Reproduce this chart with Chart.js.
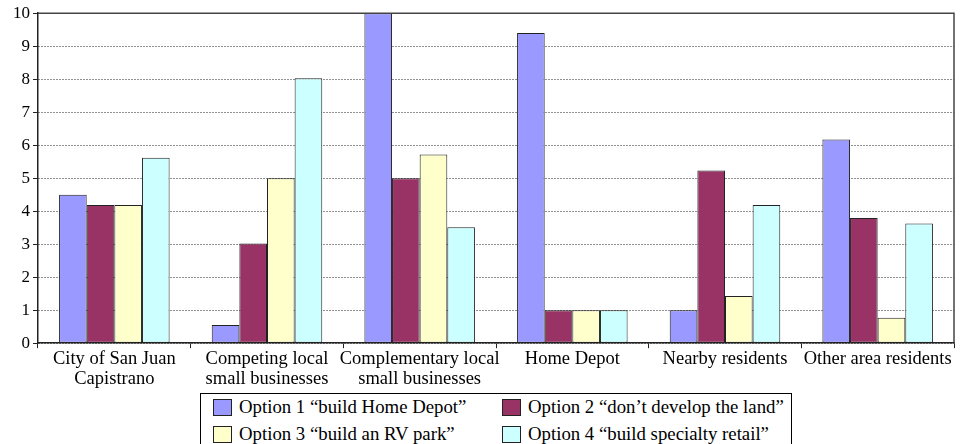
<!DOCTYPE html>
<html>
<head>
<meta charset="utf-8">
<script src="https://cdn.jsdelivr.net/npm/chart.js@4"></script>
<style>
  html, body { margin: 0; padding: 0; background: #fff; font-family: 'Liberation Serif', serif; }
  #wrap { position: relative; width: 960px; height: 444px; overflow: hidden; }
  #chartBox { position: absolute; left: 0; top: 0; width: 960px; height: 390px; }
  #legend {
    position: absolute; left: 200px; top: 393px; width: 592px; height: 60px;
    border: 1px solid #000; box-sizing: border-box;
    font-family: 'Liberation Serif', serif; font-size: 18.8px; color: #000;
  }
  .item { position: absolute; white-space: nowrap; line-height: 22px; }
  .sw { display: inline-block; vertical-align: -3px; width: 17px; height: 15px; border: 1px solid #222; margin-right: 7px; }
</style>
</head>
<body>
<div id="wrap">
  <div id="chartBox"><canvas id="stakeChart"></canvas></div>
  <div id="legend"></div>
</div>
<script>
// 類別、數列
const categories = [
  ['City of San Juan', 'Capistrano'],
  ['Competing local', 'small businesses'],
  ['Complementary local', 'small businesses'],
  'Home Depot',
  'Nearby residents',
  'Other area residents'
];
const seriesNames = [
  'Option 1 \u201cbuild Home Depot\u201d',
  'Option 2 \u201cdon\u2019t develop the land\u201d',
  'Option 3 \u201cbuild an RV park\u201d',
  'Option 4 \u201cbuild specialty retail\u201d'
];
const option1 = [4.5, 0.55, 10, 9.4, 1, 6.17];
const option2 = [4.19, 3.02, 5.0, 1, 5.23, 3.79];
const option3 = [4.19, 5.0, 5.72, 1, 1.43, 0.77];
const option4 = [5.62, 8.03, 3.51, 1, 4.19, 3.63];
const yTicks = [0, 1, 2, 3, 4, 5, 6, 7, 8, 9, 10];

const colors = ['#9999ff', '#993366', '#ffffcc', '#ccffff'];
const FONT = "'Liberation Serif', serif";
Chart.defaults.font.family = FONT;

// 外框 (上、右)
const framePlugin = {
  id: 'frame',
  afterDraw(chart) {
    const { ctx, chartArea: a } = chart;
    ctx.save();
    ctx.strokeStyle = '#444';
    ctx.lineWidth = 1.5;
    ctx.beginPath();
    ctx.moveTo(a.left, a.top);
    ctx.lineTo(a.right, a.top);
    ctx.lineTo(a.right, a.bottom);
    ctx.stroke();
    ctx.restore();
  }
};

const allData = [option1, option2, option3, option4];

new Chart(document.getElementById('stakeChart').getContext('2d'), {
  type: 'bar',
  data: {
    labels: categories,
    datasets: allData.map((d, i) => ({
      label: seriesNames[i],
      data: d,
      backgroundColor: colors[i],
      borderColor: '#222',
      borderWidth: 1,
      borderSkipped: false,
      categoryPercentage: 0.724,
      barPercentage: 1
    }))
  },
  options: {
    responsive: true,
    maintainAspectRatio: false,
    animation: false,
    layout: { padding: { left: 10, right: 6, top: 6, bottom: 0 } },
    scales: {
      x: {
        grid: { drawOnChartArea: false, drawTicks: true, tickLength: 5, color: '#222', offset: true },
        border: { color: '#222', width: 1.5 },
        ticks: { color: '#000', font: { family: FONT, size: 18.5, lineHeight: 1.13 }, padding: 0, maxRotation: 0, autoSkip: false }
      },
      y: {
        min: 0,
        max: 10,
        afterBuildTicks(scale) { scale.ticks = yTicks.map(v => ({ value: v })); },
        grid: { color: '#222', lineWidth: 1, tickLength: 5, drawTicks: true },
        border: { color: '#222', width: 1.5, dash: [1, 2] },
        ticks: { color: '#000', font: { family: FONT, size: 17 }, padding: 3 }
      }
    },
    plugins: {
      legend: { display: false },
      tooltip: { enabled: false }
    }
  },
  plugins: [framePlugin]
});

// 圖例 (兩欄)
const legend = document.getElementById('legend');
const pos = [[12, 2], [301, 2], [12, 29], [301, 29]];
[0, 1, 2, 3].forEach((s, k) => {
  const el = document.createElement('div');
  el.className = 'item';
  el.style.left = pos[k][0] + 'px';
  el.style.top = pos[k][1] + 'px';
  el.innerHTML = '<span class="sw" style="background:' + colors[s] + '"></span>' + seriesNames[s];
  legend.appendChild(el);
});
</script>
</body>
</html>
